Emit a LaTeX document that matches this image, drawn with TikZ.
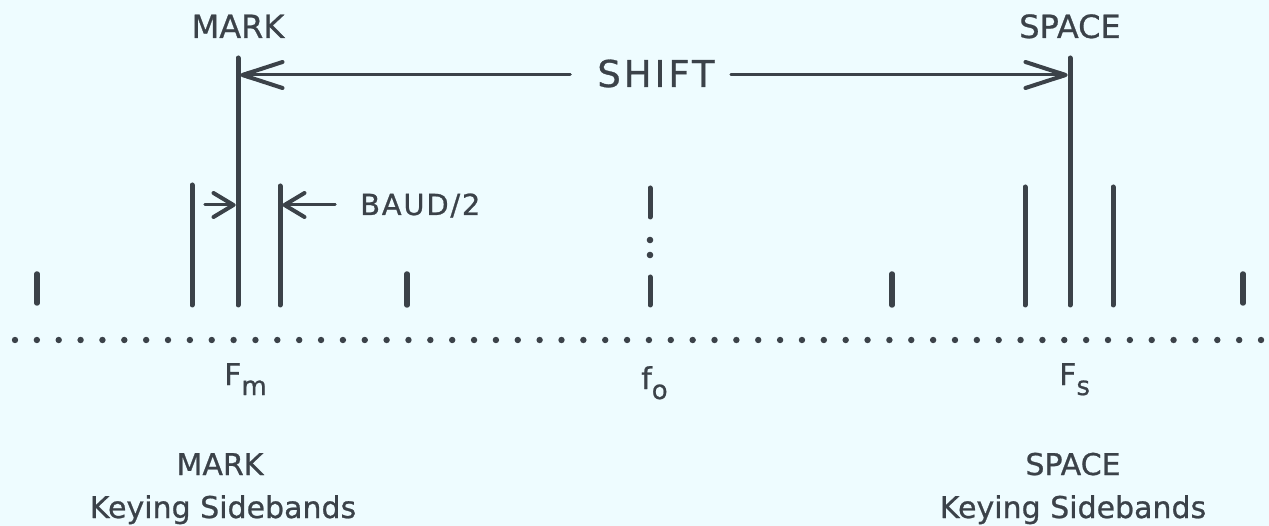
\documentclass[tikz,border=0pt]{standalone}
\usepackage{fontspec}
\setmainfont[FakeBold=0.8]{DejaVu Sans}
\usetikzlibrary{arrows.meta}
\definecolor{paper}{HTML}{EEFCFF}
\definecolor{ink}{HTML}{3B4249}
\newcommand{\fsz}[1]{\fontsize{#1}{#1}\selectfont}
\begin{document}
\begin{tikzpicture}[x=1pt,y=-1pt,
  carrier/.style={draw=ink, line width=5pt, line cap=round},
  dimline/.style={draw=ink, line width=3pt, line cap=round,
    -{Straight Barb[length=40pt,width=26pt,line width=4pt,round]},
    postaction={draw=ink, line width=3pt, -{Triangle[length=14pt,width=9pt,round]}}},
  baudline/.style={draw=ink, line width=3pt, line cap=round,
    -{Straight Barb[length=20pt,width=24pt,line width=4pt,round]},
    postaction={draw=ink, line width=3pt, -{Triangle[length=8pt,width=7pt,round]}}},
  lbl/.style={text=ink, inner sep=0pt, anchor=base, font=\fsz{32}},
]
\fill[paper] (0,0) rectangle (1269,526);
\useasboundingbox (0,0) rectangle (1269,526);

% frequency axis
\foreach \k in {0,...,57}
  \fill[ink] (15+21.86*\k,340) circle (3.2pt);

% mark and space carriers
\coordinate (mkT) at (238,58);  \coordinate (mkB) at (238,305);
\coordinate (spT) at (1070,58); \coordinate (spB) at (1070,305);
\draw[carrier] (mkT) -- (mkB);
\draw[carrier] (spT) -- (spB);

% keying sidebands
\coordinate (mlT) at (192,185);  \coordinate (mlB) at (192,305);
\coordinate (muT) at (280,186);  \coordinate (muB) at (280,305);
\coordinate (slT) at (1025,187); \coordinate (slB) at (1025,305);
\coordinate (suT) at (1113,187); \coordinate (suB) at (1113,305);
\draw[carrier] (mlT) -- (mlB);
\draw[carrier] (muT) -- (muB);
\draw[carrier] (slT) -- (slB);
\draw[carrier] (suT) -- (suB);

% outer components
\coordinate (t1T) at (37,274);   \coordinate (t1B) at (37,303);
\coordinate (t2T) at (407,274);  \coordinate (t2B) at (407,305);
\coordinate (t3T) at (892,274);  \coordinate (t3B) at (892,305);
\coordinate (t4T) at (1243,274); \coordinate (t4B) at (1243,303);
\draw[carrier, line width=5.5pt] (t1T) -- (t1B);
\draw[carrier, line width=5.5pt] (t2T) -- (t2B);
\draw[carrier, line width=5.5pt] (t3T) -- (t3B);
\draw[carrier, line width=5.5pt] (t4T) -- (t4B);

% centre frequency marker
\coordinate (caT) at (650,188); \coordinate (caB) at (650,217);
\coordinate (cbT) at (650,277); \coordinate (cbB) at (650,305);
\draw[carrier] (caT) -- (caB);
\draw[carrier] (cbT) -- (cbB);
\fill[ink] (650,240) circle (3.3pt);
\fill[ink] (650,255) circle (3.3pt);

% labels above the carriers
\node[lbl] (mkTop) at (238,38) {MARK};
\node[lbl] (spTop) at (1070,38) {SPACE};

% shift dimension
\node[lbl, font=\fsz{37}] (shift) at (656,87) {\addfontfeature{LetterSpace=8}SHIFT};
\coordinate (shL) at (570,75);  \coordinate (shR) at (731,75);
\coordinate (shM) at (240.5,75); \coordinate (shS) at (1067.5,75);
\draw[dimline] (shL) -- (shM);
\draw[dimline] (shR) -- (shS);

% baud/2 dimension
\node[lbl, anchor=base west, font=\fsz{29}] (baud) at (360,215) {\addfontfeature{LetterSpace=6}BAUD/2};
\coordinate (bdA) at (205,205); \coordinate (bdAt) at (235.5,205);
\coordinate (bdB) at (335,205); \coordinate (bdBt) at (282.5,205);
\draw[baudline] (bdA) -- (bdAt);
\draw[baudline] (bdB) -- (bdBt);

% frequency labels
\node[lbl, anchor=base west, font=\fsz{30}] (fm) at (224,385)
  {F\raisebox{-10pt}{\fsz{26}m}};
\node[lbl, anchor=base west, font=\fsz{30}] (fo) at (641,389)
  {f\raisebox{-10pt}{\fsz{26}o}};
\node[lbl, anchor=base west, font=\fsz{30}] (fs) at (1059,385)
  {F\raisebox{-10pt}{\fsz{26}s}};

% sideband captions
\node[lbl, font=\fsz{30}] (mkCap) at (220,475) {MARK};
\node[lbl, font=\fsz{30}] (mkKey) at (223,518) {Keying Sidebands};
\node[lbl, font=\fsz{30}] (spCap) at (1073,475) {SPACE};
\node[lbl, font=\fsz{30}] (spKey) at (1073,518) {Keying Sidebands};
\end{tikzpicture}
\end{document}
